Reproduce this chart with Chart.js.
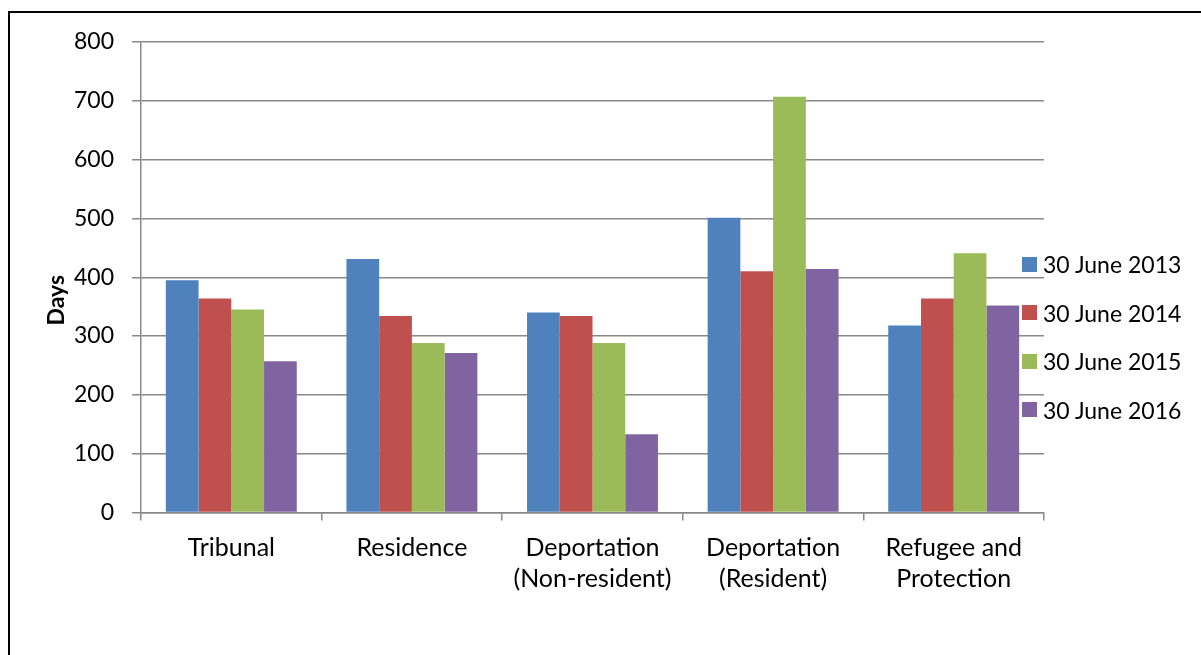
<!DOCTYPE html>
<html>
<head>
<meta charset="utf-8">
<script src="https://cdn.jsdelivr.net/npm/chart.js@4"></script>
<style>
  html, body { margin: 0; padding: 0; background: #fff; }
  #wrap { position: relative; width: 1201px; height: 655px; overflow: hidden; }
  #frame { position: absolute; left: 8px; top: 11px; width: 1300px; height: 800px; border-left: 2px solid #000; border-top: 2px solid #000; }
  #chart { position: absolute; left: 0; top: 0; }
  #legend { position: absolute; left: 1022px; top: 240px; margin: 0; padding: 0; list-style: none; font-family: Lato, sans-serif; font-size: 23px; color: #000; }
  #legend li { display: flex; align-items: center; height: 48.5px; white-space: nowrap; }
  #legend span { display: inline-block; width: 15px; height: 15px; margin-right: 6px; }
</style>
</head>
<body>
<div id="wrap">
  <div id="frame"></div>
  <canvas id="chart" width="1201" height="655"></canvas>
  <ul id="legend"></ul>
</div>
<script>
// Dias por tipo de processo
const categorias = ['Tribunal', 'Residence', ['Deportation', '(Non-resident)'], ['Deportation', '(Resident)'], ['Refugee and', 'Protection']];
const series = ['30 June 2013', '30 June 2014', '30 June 2015', '30 June 2016'];
const dias2013 = [395, 431, 340, 501, 318];
const dias2014 = [364, 334, 334, 410, 364];
const dias2015 = [345, 288, 288, 707, 441];
const dias2016 = [257, 271, 133, 414, 352];
const ticksY = [0, 100, 200, 300, 400, 500, 600, 700, 800];
const tituloY = 'Days';

const cores = ['#4F81BD', '#C0504D', '#9BBB59', '#8064A2'];
const valores = [dias2013, dias2014, dias2015, dias2016];
const cinza = '#888888';
const fonte = 'Lato, sans-serif';

const datasets = series.map((nome, i) => ({
    label: nome,
    data: valores[i],
    backgroundColor: cores[i],
    borderWidth: 0,
    categoryPercentage: 0.725,
    barPercentage: 1
}));

// Título do eixo Y, um pouco abaixo do centro da área do gráfico
const tituloEixoY = {
    id: 'tituloEixoY',
    afterDraw(chart) {
        const c = chart.ctx;
        const area = chart.chartArea;
        c.save();
        c.translate(57, (area.top + area.bottom) / 2 + 23);
        c.rotate(-Math.PI / 2);
        c.font = 'bold 23px ' + fonte;
        c.fillStyle = '#000';
        c.textAlign = 'center';
        c.textBaseline = 'middle';
        c.fillText(tituloY, 0, 0);
        c.restore();
    }
};

const ctx = document.getElementById('chart').getContext('2d');
const grafico = new Chart(ctx, {
    type: 'bar',
    data: { labels: categorias, datasets: datasets },
    plugins: [tituloEixoY],
    options: {
        responsive: false,
        animation: false,
        layout: { padding: { left: 0, top: 42, right: 157, bottom: 0 } },
        plugins: {
            legend: { display: false },
            tooltip: { enabled: false }
        },
        scales: {
            x: {
                grid: { offset: true, drawOnChartArea: false, drawTicks: true, tickLength: 8, color: cinza, lineWidth: 1.5 },
                border: { display: true, color: cinza, width: 1.5 },
                ticks: { color: '#000', padding: 12, maxRotation: 0, font: { family: fonte, size: 25, lineHeight: 1.24 } },
                afterFit: scale => { scale.height = 142.5; }
            },
            y: {
                min: 0,
                max: 800,
                afterBuildTicks: scale => { scale.ticks = ticksY.map(v => ({ value: v })); },
                grid: { color: cinza, lineWidth: 1.5, tickLength: 9 },
                border: { display: true, color: cinza, width: 1.5 },
                ticks: { color: '#000', padding: 18, font: { family: fonte, size: 23 } },
                afterFit: scale => { scale.width = 141; }
            }
        }
    }
});

// Legenda em HTML a partir dos datasets
const lista = document.getElementById('legend');
grafico.data.datasets.forEach(ds => {
    const li = document.createElement('li');
    const caixa = document.createElement('span');
    caixa.style.background = ds.backgroundColor;
    li.appendChild(caixa);
    li.appendChild(document.createTextNode(ds.label));
    lista.appendChild(li);
});
</script>
</body>
</html>
